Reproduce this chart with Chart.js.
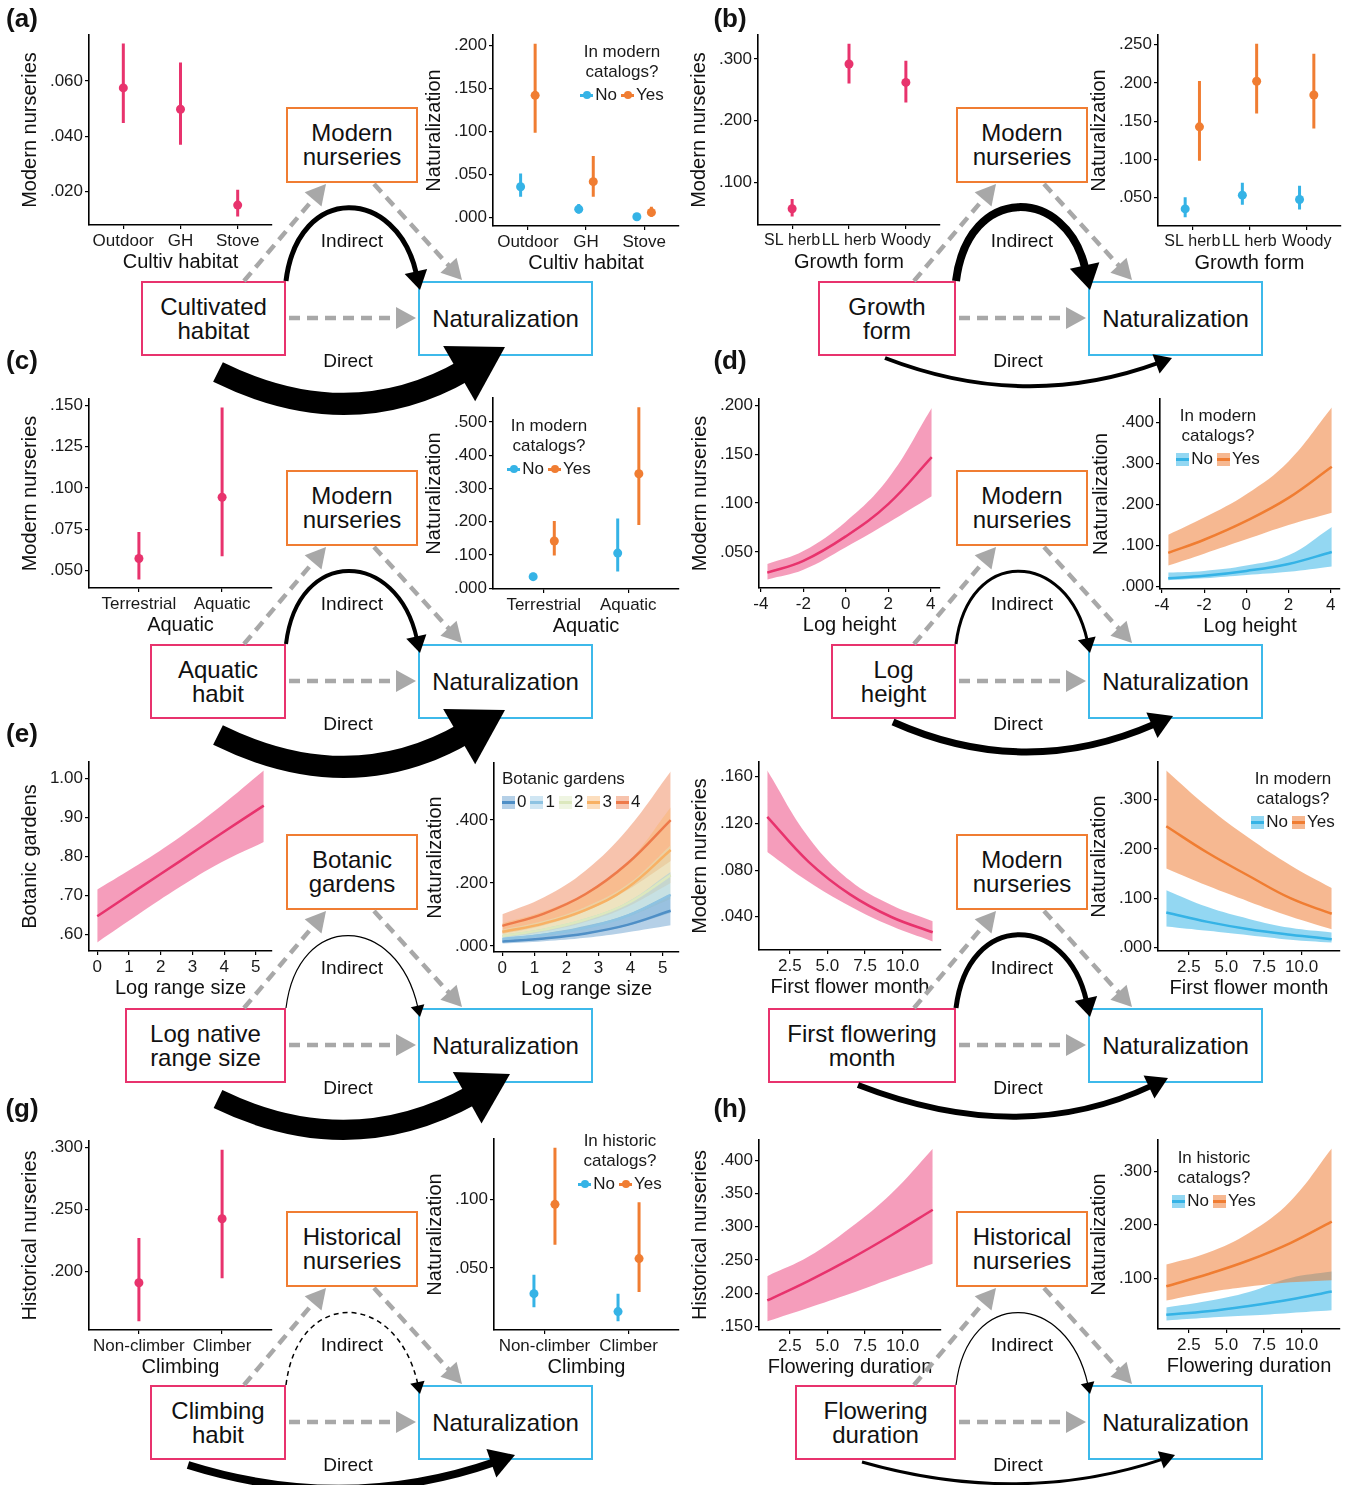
<!DOCTYPE html>
<html lang="en">
<head>
<meta charset="UTF-8">
<title>Paths to naturalization</title>
<script src="https://cdn.jsdelivr.net/npm/chart.js"></script>
<style>
  body { margin: 0; background: #fff; font-family: "Liberation Sans", Arial, sans-serif; }
  #fig { position: relative; width: 1366px; height: 1485px; overflow: hidden; }
  #fig canvas { position: absolute; z-index: 1; }
  .box { position: absolute; box-sizing: border-box; border: 2.5px solid; background: #fff; display: flex;
         align-items: center; justify-content: center; text-align: center; font-size: 24px; line-height: 24px; color: #111; z-index: 2; }
  .lbl { position: absolute; font-size: 19px; color: #111; transform: translate(-50%, -50%); white-space: nowrap; z-index: 4; }
  .tag { position: absolute; font-size: 26px; font-weight: bold; color: #111; transform: translate(-50%, -50%); z-index: 4; }
  .legend { position: absolute; font-size: 17px; line-height: 20px; color: #1a1a1a; z-index: 5; }
  .keys { display: flex; align-items: center; gap: 4px; margin-top: 3px; }
  .sw { position: relative; display: inline-block; width: 13px; height: 13px; margin-right: 2px; }
  .sw i { position: absolute; display: block; }
  svg { position: absolute; left: 0; top: 0; z-index: 3; }
</style>
</head>
<body>
<div id="fig"></div>
<script>
// ---- data ----
// (a) cultivation habitat
const habitatCats = ['Outdoor', 'GH', 'Stove'];
const habitatNurs = [0.0575, 0.0498, 0.0152];
const habitatNursLo = [0.0448, 0.0370, 0.0111];
const habitatNursHi = [0.0735, 0.0667, 0.0207];
const habitatNatNo = [0.0360, 0.0100, 0.0012];
const habitatNatNoLo = [0.0244, 0.0050, 0.0003];
const habitatNatNoHi = [0.0515, 0.0159, 0.0040];
const habitatNatYes = [0.1423, 0.0419, 0.0062];
const habitatNatYesLo = [0.0988, 0.0244, 0.0012];
const habitatNatYesHi = [0.2023, 0.0717, 0.0128];

// (b) growth form
const growthCats = ['SL herb', 'LL herb', 'Woody'];
const growthNurs = [0.0573, 0.2919, 0.2622];
const growthNursLo = [0.0449, 0.2605, 0.2297];
const growthNursHi = [0.0730, 0.3249, 0.2973];
const growthNatNo = [0.0351, 0.0531, 0.0474];
const growthNatNoLo = [0.0241, 0.0404, 0.0342];
const growthNatNoHi = [0.0504, 0.0693, 0.0654];
const growthNatYes = [0.1425, 0.2022, 0.1842];
const growthNatYesLo = [0.0982, 0.1601, 0.1404];
const growthNatYesHi = [0.2026, 0.2513, 0.2382];

// (c) aquatic habit
const aquaticCats = ['Terrestrial', 'Aquatic'];
const aquaticNurs = [0.0574, 0.0944];
const aquaticNursLo = [0.0448, 0.0588];
const aquaticNursHi = [0.0735, 0.1486];
const aquaticNatNo = [0.035, 0.106];
const aquaticNatNoLo = [0.025, 0.0505];
const aquaticNatNoHi = [0.047, 0.210];
const aquaticNatYes = [0.1424, 0.3444];
const aquaticNatYesLo = [0.099, 0.190];
const aquaticNatYesHi = [0.202, 0.5444];

// (d) log height
const heightX = [-3.7, -2, 0, 2, 4.05];
const heightNurs = [0.029, 0.041, 0.066, 0.099, 0.147];
const heightNursHi = [0.0378, 0.051, 0.081, 0.125, 0.197];
const heightNursLo = [0.0221, 0.032, 0.055, 0.080, 0.107];
const heightNatYes = [0.082, 0.114, 0.160, 0.216, 0.292];
const heightNatYesHi = [0.126, 0.168, 0.225, 0.305, 0.436];
const heightNatYesLo = [0.051, 0.080, 0.115, 0.150, 0.180];
const heightNatNo = [0.020, 0.026, 0.038, 0.055, 0.084];
const heightNatNoHi = [0.034, 0.038, 0.051, 0.076, 0.145];
const heightNatNoLo = [0.0155, 0.020, 0.028, 0.036, 0.049];

// (e) log native range size, naturalization by number of botanic gardens
const rangeX = [0, 1.3, 2.6, 3.9, 5.25];
const rangeBot = [0.647, 0.718, 0.788, 0.859, 0.931];
const rangeBotHi = [0.716, 0.780, 0.850, 0.930, 1.021];
const rangeBotLo = [0.580, 0.652, 0.722, 0.785, 0.838];
const gardenLevels = ['0', '1', '2', '3', '4'];
const rangeNat = [
  [0.014, 0.024, 0.040, 0.067, 0.112],
  [0.022, 0.036, 0.058, 0.096, 0.162],
  [0.032, 0.052, 0.084, 0.135, 0.225],
  [0.045, 0.072, 0.115, 0.185, 0.305],
  [0.064, 0.103, 0.165, 0.262, 0.400]
];
const rangeNatHi = [
  [0.025, 0.040, 0.064, 0.100, 0.165],
  [0.036, 0.056, 0.088, 0.140, 0.235],
  [0.052, 0.080, 0.125, 0.195, 0.320],
  [0.072, 0.110, 0.170, 0.265, 0.440],
  [0.101, 0.155, 0.240, 0.370, 0.554]
];
const rangeNatLo = [
  [0.008, 0.015, 0.026, 0.044, 0.066],
  [0.013, 0.023, 0.038, 0.064, 0.105],
  [0.019, 0.033, 0.056, 0.092, 0.150],
  [0.027, 0.046, 0.077, 0.125, 0.200],
  [0.038, 0.066, 0.110, 0.178, 0.270]
];

// (f) first flowering month
const monthX = [1, 3.75, 6.5, 9.25, 12];
const monthNurs = [0.1257, 0.0871, 0.0592, 0.0398, 0.0267];
const monthNursHi = [0.1654, 0.108, 0.071, 0.050, 0.0361];
const monthNursLo = [0.0956, 0.070, 0.049, 0.032, 0.0188];
const monthNatYes = [0.2458, 0.192, 0.145, 0.100, 0.0684];
const monthNatYesHi = [0.359, 0.285, 0.222, 0.167, 0.1205];
const monthNatYesLo = [0.160, 0.125, 0.093, 0.063, 0.037];
const monthNatNo = [0.071, 0.052, 0.037, 0.026, 0.017];
const monthNatNoHi = [0.116, 0.082, 0.058, 0.040, 0.0305];
const monthNatNoLo = [0.0427, 0.034, 0.025, 0.016, 0.0102];

// (g) climbing habit
const climbCats = ['Non-climber', 'Climber'];
const climbNurs = [0.191, 0.2425];
const climbNursLo = [0.160, 0.1947];
const climbNursHi = [0.2269, 0.2979];
const climbNatNo = [0.0314, 0.0184];
const climbNatNoLo = [0.0216, 0.0113];
const climbNatNoHi = [0.0451, 0.0314];
const climbNatYes = [0.0963, 0.0569];
const climbNatYesLo = [0.0669, 0.0326];
const climbNatYesHi = [0.1375, 0.0978];

// (h) flowering duration
const durX = [1, 3.75, 6.5, 9.25, 12];
const durNurs = [0.189, 0.2186, 0.2513, 0.2872, 0.3256];
const durNursHi = [0.2256, 0.255, 0.298, 0.350, 0.4176];
const durNursLo = [0.1575, 0.178, 0.199, 0.222, 0.2443];
const durNatYes = [0.0856, 0.108, 0.134, 0.166, 0.206];
const durNatYesHi = [0.126, 0.148, 0.185, 0.244, 0.342];
const durNatYesLo = [0.059, 0.074, 0.085, 0.093, 0.097];
const durNatNo = [0.0325, 0.039, 0.049, 0.061, 0.076];
const durNatNoHi = [0.046, 0.058, 0.075, 0.101, 0.113];
const durNatNoLo = [0.022, 0.027, 0.031, 0.036, 0.041];

// ---- styling ----
const PINK = '#E8336D', BLUE = '#35B3E6', ORANGE = '#F07D32';
const PINK_FILL = 'rgba(236,60,120,0.5)', BLUE_FILL = 'rgba(40,175,230,0.5)', ORANGE_FILL = 'rgba(238,118,45,0.52)';
const GARDEN_LINE = ['#4F8FC6', '#8EC3E2', '#DCE8BE', '#F8B164', '#EE7A4A'];
const GARDEN_FILL = ['rgba(79,143,198,0.42)', 'rgba(142,195,226,0.42)', 'rgba(220,232,190,0.45)', 'rgba(248,177,100,0.42)', 'rgba(238,122,74,0.45)'];
const PT = 14, PR = 6, YW = 75, XH = 53;
Chart.defaults.font.family = '"Liberation Sans", Arial, sans-serif';

const fig = document.getElementById('fig');
const DODGE = 0.125;

function pointSets(cats, est, lo, hi, color, dx) {
  const err = [];
  cats.forEach((c, i) => {
    err.push({x: i + 1 + dx, y: lo[i]}, {x: i + 1 + dx, y: hi[i]}, {x: i + 1 + dx, y: null});
  });
  return [
    {data: est.map((v, i) => ({x: i + 1 + dx, y: v})), showLine: false, pointRadius: 4.5,
     pointBackgroundColor: color, pointBorderWidth: 0},
    {data: err, borderColor: color, borderWidth: 3, pointRadius: 0, spanGaps: false}
  ];
}

function lineSet(xs, ys, color) {
  return {data: xs.map((x, i) => ({x, y: ys[i]})), borderColor: color, borderWidth: 2.5,
          pointRadius: 0, tension: 0.4, fill: false};
}

function bandSets(xs, lo, hi, fillColor) {
  return [
    {data: xs.map((x, i) => ({x, y: hi[i]})), borderWidth: 0, borderColor: 'rgba(0,0,0,0)', pointRadius: 0,
     backgroundColor: fillColor, fill: '+1', tension: 0.4},
    {data: xs.map((x, i) => ({x, y: lo[i]})), borderWidth: 0, borderColor: 'rgba(0,0,0,0)', pointRadius: 0,
     fill: false, tension: 0.4}
  ];
}

const dotFmt = dec => v => v.toFixed(dec).replace(/^(-?)0\./, '$1.');

function axisOpts(axis, range, ticks, fmt, title, tickSize) {
  return {
    type: 'linear', min: range[0], max: range[1],
    afterBuildTicks: s => { s.ticks = ticks.map(v => ({value: v})); },
    afterFit: s => { if (axis === 'x') s.height = XH; else s.width = YW; },
    ticks: {callback: v => fmt(v), color: '#1a1a1a', font: {size: tickSize}, padding: 2, autoSkip: false, maxRotation: 0},
    grid: {display: true, drawOnChartArea: false, drawTicks: true, tickLength: 4, color: '#000', lineWidth: 1.2},
    border: {display: true, color: '#000', width: 1.6},
    title: {display: true, text: title, color: '#111', font: {size: 20}, padding: {top: 4, bottom: 4}}
  };
}

function makeChart(spec) {
  const [l, t, r, b] = spec.plot;
  const w = YW + (r - l) + PR, h = PT + (b - t) + XH;
  const c = document.createElement('canvas');
  c.width = w; c.height = h;
  c.style.left = (l - YW) + 'px'; c.style.top = (t - PT) + 'px';
  c.style.width = w + 'px'; c.style.height = h + 'px';
  fig.appendChild(c);
  let xRange, xTicks, xFmt;
  if (spec.cats) {
    xRange = [0.4, spec.cats.length + 0.6];
    xTicks = spec.cats.map((_, i) => i + 1);
    xFmt = v => spec.cats[Math.round(v) - 1] || '';
  } else {
    xRange = spec.x; xTicks = spec.xTicks; xFmt = v => v.toFixed(spec.xDec || 0);
  }
  new Chart(c, {
    type: 'line',
    data: {datasets: spec.sets},
    options: {
      responsive: false, animation: false, events: [],
      layout: {padding: {top: PT, right: PR, left: 0, bottom: 0}},
      plugins: {legend: {display: false}, tooltip: {enabled: false}},
      scales: {
        x: axisOpts('x', xRange, xTicks, xFmt, spec.xTitle, spec.xSize || 17),
        y: axisOpts('y', spec.y, spec.yTicks, dotFmt(spec.yDec || 3), spec.yTitle, 17)
      }
    }
  });
}

function noYes(cats, no, noLo, noHi, yes, yesLo, yesHi) {
  return [...pointSets(cats, yes, yesLo, yesHi, ORANGE, DODGE), ...pointSets(cats, no, noLo, noHi, BLUE, -DODGE)];
}
function noYesBands(xs, no, noLo, noHi, yes, yesLo, yesHi) {
  return [lineSet(xs, yes, ORANGE), lineSet(xs, no, BLUE),
          ...bandSets(xs, yesLo, yesHi, ORANGE_FILL), ...bandSets(xs, noLo, noHi, BLUE_FILL)];
}
function singleBand(xs, est, lo, hi) {
  return [lineSet(xs, est, PINK), ...bandSets(xs, lo, hi, PINK_FILL)];
}

const gardenSets = [
  ...gardenLevels.map((g, k) => lineSet(rangeX, rangeNat[4 - k], GARDEN_LINE[4 - k])),
  ...gardenLevels.flatMap((g, k) => bandSets(rangeX, rangeNatLo[k], rangeNatHi[k], GARDEN_FILL[k]))
];

const NAT = 'Naturalization', MOD = 'Modern nurseries', HIS = 'Historical nurseries';
const charts = [
  {plot: [89, 35, 272, 225], yTitle: MOD, xTitle: 'Cultiv habitat', cats: habitatCats, y: [0.008, 0.0766], yTicks: [0.02, 0.04, 0.06],
   sets: pointSets(habitatCats, habitatNurs, habitatNursLo, habitatNursHi, PINK, 0)},
  {plot: [493, 35, 679, 226], yTitle: NAT, xTitle: 'Cultiv habitat', cats: habitatCats, y: [-0.0096, 0.2124], yTicks: [0, 0.05, 0.1, 0.15, 0.2],
   sets: noYes(habitatCats, habitatNatNo, habitatNatNoLo, habitatNatNoHi, habitatNatYes, habitatNatYesLo, habitatNatYesHi)},
  {plot: [758, 35, 940, 225], yTitle: MOD, xTitle: 'Growth form', cats: growthCats, xSize: 16, y: [0.031, 0.339], yTicks: [0.1, 0.2, 0.3],
   sets: pointSets(growthCats, growthNurs, growthNursLo, growthNursHi, PINK, 0)},
  {plot: [1158, 35, 1341, 226], yTitle: NAT, xTitle: 'Growth form', cats: growthCats, xSize: 16, y: [0.0127, 0.2627], yTicks: [0.05, 0.1, 0.15, 0.2, 0.25],
   sets: noYes(growthCats, growthNatNo, growthNatNoLo, growthNatNoHi, growthNatYes, growthNatYesLo, growthNatYesHi)},
  {plot: [89, 399, 272, 588], yTitle: MOD, xTitle: 'Aquatic', cats: aquaticCats, y: [0.0396, 0.1538], yTicks: [0.05, 0.075, 0.1, 0.125, 0.15],
   sets: pointSets(aquaticCats, aquaticNurs, aquaticNursLo, aquaticNursHi, PINK, 0)},
  {plot: [493, 398, 679, 589], yTitle: NAT, xTitle: 'Aquatic', cats: aquaticCats, y: [-0.002, 0.572], yTicks: [0, 0.1, 0.2, 0.3, 0.4, 0.5],
   sets: noYes(aquaticCats, aquaticNatNo, aquaticNatNoLo, aquaticNatNoHi, aquaticNatYes, aquaticNatYesLo, aquaticNatYesHi)},
  {plot: [759, 399, 940, 588], yTitle: MOD, xTitle: 'Log height', x: [-4.09, 4.44], xTicks: [-4, -2, 0, 2, 4], y: [0.0133, 0.2063], yTicks: [0.05, 0.1, 0.15, 0.2],
   sets: singleBand(heightX, heightNurs, heightNursLo, heightNursHi)},
  {plot: [1160, 399, 1340, 589], yTitle: NAT, xTitle: 'Log height', x: [-4.09, 4.44], xTicks: [-4, -2, 0, 2, 4], y: [-0.006, 0.457], yTicks: [0, 0.1, 0.2, 0.3, 0.4],
   sets: noYesBands(heightX, heightNatNo, heightNatNoLo, heightNatNoHi, heightNatYes, heightNatYesLo, heightNatYesHi)},
  {plot: [89, 762, 272, 951], yTitle: 'Botanic gardens', xTitle: 'Log range size', x: [-0.26, 5.51], xTicks: [0, 1, 2, 3, 4, 5], y: [0.558, 1.043], yTicks: [0.6, 0.7, 0.8, 0.9, 1.0], yDec: 2,
   sets: singleBand(rangeX, rangeBot, rangeBotLo, rangeBotHi)},
  {plot: [494, 763, 679, 952], yTitle: NAT, xTitle: 'Log range size', x: [-0.26, 5.51], xTicks: [0, 1, 2, 3, 4, 5], y: [-0.019, 0.581], yTicks: [0, 0.2, 0.4],
   sets: gardenSets},
  {plot: [759, 762, 941, 950], yTitle: MOD, xTitle: 'First flower month', x: [0.45, 12.55], xTicks: [2.5, 5, 7.5, 10], xDec: 1, y: [0.0115, 0.1727], yTicks: [0.04, 0.08, 0.12, 0.16],
   sets: singleBand(monthX, monthNurs, monthNursLo, monthNursHi)},
  {plot: [1158, 762, 1340, 951], yTitle: NAT, xTitle: 'First flower month', x: [0.45, 12.55], xTicks: [2.5, 5, 7.5, 10], xDec: 1, y: [-0.007, 0.376], yTicks: [0, 0.1, 0.2, 0.3],
   sets: noYesBands(monthX, monthNatNo, monthNatNoLo, monthNatNoHi, monthNatYes, monthNatYesLo, monthNatYesHi)},
  {plot: [89, 1141, 272, 1330], yTitle: HIS, xTitle: 'Climbing', cats: climbCats, y: [0.153, 0.305], yTicks: [0.2, 0.25, 0.3],
   sets: pointSets(climbCats, climbNurs, climbNursLo, climbNursHi, PINK, 0)},
  {plot: [494, 1139, 679, 1330], yTitle: NAT, xTitle: 'Climbing', cats: climbCats, y: [0.005, 0.1438], yTicks: [0.05, 0.1],
   sets: noYes(climbCats, climbNatNo, climbNatNoLo, climbNatNoHi, climbNatYes, climbNatYesLo, climbNatYesHi)},
  {plot: [759, 1140, 941, 1330], yTitle: HIS, xTitle: 'Flowering duration', x: [0.45, 12.55], xTicks: [2.5, 5, 7.5, 10], xDec: 1, y: [0.1445, 0.4306], yTicks: [0.15, 0.2, 0.25, 0.3, 0.35, 0.4],
   sets: singleBand(durX, durNurs, durNursLo, durNursHi)},
  {plot: [1158, 1140, 1340, 1329], yTitle: NAT, xTitle: 'Flowering duration', x: [0.45, 12.55], xTicks: [2.5, 5, 7.5, 10], xDec: 1, y: [0.006, 0.358], yTicks: [0.1, 0.2, 0.3],
   sets: noYesBands(durX, durNatNo, durNatNoLo, durNatNoHi, durNatYes, durNatYesLo, durNatYesHi)}
];
charts.forEach(makeChart);

// ---- legends ----
function swatch(kind, line, fill) {
  const bar = `<i style="left:0;top:5px;width:13px;height:3px;background:${line}"></i>`;
  if (kind === 'point')
    return `<span class="sw">${bar}<i style="left:2.5px;top:2.5px;width:8px;height:8px;border-radius:50%;background:${line}"></i></span>`;
  return `<span class="sw" style="background:${fill}">${bar}</span>`;
}
function legend(x, top, align, title, keys, kind) {
  const d = document.createElement('div');
  d.className = 'legend';
  d.style.top = top + 'px';
  if (align === 'center') { d.style.left = (x - 80) + 'px'; d.style.width = '160px'; d.style.textAlign = 'center'; }
  else d.style.left = x + 'px';
  const row = keys.map(k => `<span style="display:inline-flex;align-items:center">${swatch(kind, k[1], k[2])}${k[0]}</span>`).join('');
  d.innerHTML = title.join('<br>') + `<div class="keys" style="justify-content:${align === 'center' ? 'center' : 'flex-start'}">${row}</div>`;
  fig.appendChild(d);
}
const modernT = ['In modern', 'catalogs?'], historicT = ['In historic', 'catalogs?'];
const nyKeys = [['No', BLUE, BLUE_FILL], ['Yes', ORANGE, ORANGE_FILL]];
legend(622, 42, 'center', modernT, nyKeys, 'point');
legend(549, 416, 'center', modernT, nyKeys, 'point');
legend(1218, 406, 'center', modernT, nyKeys, 'band');
legend(1293, 769, 'center', modernT, nyKeys, 'band');
legend(620, 1131, 'center', historicT, nyKeys, 'point');
legend(1214, 1148, 'center', historicT, nyKeys, 'band');
legend(502, 769, 'left', ['Botanic gardens'], gardenLevels.map((g, k) => [g, GARDEN_LINE[k], GARDEN_FILL[k]]), 'band');

// ---- path diagrams ----
const rowY = [0, 363, 727, 1104];
const tagY = [18, 360, 733, 1108];
const panels = [
  {tag: '(a)', col: 0, row: 0, pink: [141, 286], text: ['Cultivated', 'habitat'], mid: ['Modern', 'nurseries'], ind: 5,
   direct: {p0: [218, 372], c: [350, 437], tip: [505, 347], lw: 22}},
  {tag: '(b)', col: 1, row: 0, pink: [818, 956], text: ['Growth', 'form'], mid: ['Modern', 'nurseries'], ind: 8,
   direct: {p0: [885, 358], c: [1025, 412], tip: [1172, 358], lw: 4}},
  {tag: '(c)', col: 0, row: 1, pink: [150, 286], text: ['Aquatic', 'habit'], mid: ['Modern', 'nurseries'], ind: 4,
   direct: {p0: [218, 735], c: [350, 800], tip: [505, 710], lw: 22}},
  {tag: '(d)', col: 1, row: 1, pink: [831, 956], text: ['Log', 'height'], mid: ['Modern', 'nurseries'], ind: 3,
   direct: {p0: [893, 722], c: [1025, 781], tip: [1173, 716], lw: 7}},
  {tag: '(e)', col: 0, row: 2, pink: [125, 286], text: ['Log native', 'range size'], mid: ['Botanic', 'gardens'], ind: 1.2,
   direct: {p0: [218, 1099], c: [350, 1163], tip: [510, 1074], lw: 20}},
  {tag: '', col: 1, row: 2, pink: [768, 956], text: ['First flowering', 'month'], mid: ['Modern', 'nurseries'], ind: 5,
   direct: {p0: [858, 1085], c: [1020, 1148], tip: [1168, 1078], lw: 6}},
  {tag: '(g)', col: 0, row: 3, pink: [150, 286], text: ['Climbing', 'habit'], mid: ['Historical', 'nurseries'], ind: 1.5, dashed: true,
   direct: {p0: [188, 1465], c: [345, 1514], tip: [515, 1455], lw: 8}},
  {tag: '(h)', col: 1, row: 3, pink: [795, 956], text: ['Flowering', 'duration'], mid: ['Historical', 'nurseries'], ind: 1.2,
   direct: {p0: [862, 1462], c: [1020, 1507], tip: [1175, 1455], lw: 3}}
];

function addBox(x0, x1, y0, y1, cls, lines) {
  const d = document.createElement('div');
  d.className = 'box';
  d.style.cssText = `left:${x0}px;top:${y0}px;width:${x1 - x0}px;height:${y1 - y0}px;border-color:${cls}`;
  d.innerHTML = lines.join('<br>');
  fig.appendChild(d);
}
function addText(cls, x, y, txt) {
  if (!txt) return;
  const d = document.createElement('div');
  d.className = cls; d.style.left = x + 'px'; d.style.top = y + 'px'; d.textContent = txt;
  fig.appendChild(d);
}
function head(tip, u, L, hw, color) {
  const bx = tip[0] - u[0] * L, by = tip[1] - u[1] * L;
  const px = -u[1], py = u[0];
  return `<polygon points="${tip[0]},${tip[1]} ${bx + px * hw},${by + py * hw} ${bx - px * hw},${by - py * hw}" fill="${color}"/>`;
}
function unit(a, b) { const dx = b[0] - a[0], dy = b[1] - a[1], n = Math.hypot(dx, dy); return [dx / n, dy / n]; }
function sizes(lw) { return [2 * lw + 9, 1.2 * lw + 5.5]; }

function curveArrow(pts, lw, color, dash) {
  const tip = pts[pts.length - 1], prev = pts[pts.length - 2];
  const u = unit(prev, tip);
  const [L, hw] = sizes(lw);
  const end = [tip[0] - u[0] * L * 0.85, tip[1] - u[1] * L * 0.85];
  const cmd = pts.length === 3 ? 'Q' : 'C';
  const mids = pts.slice(1, -1).map(p => p.join(',')).join(' ');
  const da = dash ? ` stroke-dasharray="${dash}"` : '';
  return `<path d="M${pts[0].join(',')} ${cmd}${mids} ${end.join(',')}" fill="none" stroke="${color}" stroke-width="${lw}"${da}/>` +
         head(tip, u, L, hw, color);
}
function grayArrow(p0, tip) {
  const u = unit(p0, tip), L = 20, hw = 11;
  const end = [tip[0] - u[0] * L * 0.9, tip[1] - u[1] * L * 0.9];
  return `<path d="M${p0.join(',')} L${end.join(',')}" stroke="#A8A8A8" stroke-width="4.5" stroke-dasharray="11 7" fill="none"/>` +
         head(tip, u, L, hw, '#A8A8A8');
}

let svg = '';
panels.forEach(p => {
  const cx = p.col * 670, ry = rowY[p.row];
  addText('tag', p.col ? 730 : 22, tagY[p.row], p.tag);
  addBox(286 + cx, 418 + cx, 107 + ry, 183 + ry, ORANGE, p.mid);
  addBox(p.pink[0], p.pink[1], 281 + ry, 356 + ry, PINK, p.text);
  addBox(418 + cx, 593 + cx, 281 + ry, 356 + ry, '#3DB9EA', ['Naturalization']);
  addText('lbl', 352 + cx, 241 + ry, 'Indirect');
  addText('lbl', 348 + cx, 361 + ry, 'Direct');
  svg += grayArrow([244 + cx, 281 + ry], [326 + cx, 184 + ry]);
  svg += grayArrow([374 + cx, 184 + ry], [462 + cx, 280 + ry]);
  svg += grayArrow([289 + cx, 318 + ry], [416 + cx, 318 + ry]);
  svg += curveArrow([[286 + cx, 281 + ry], [298 + cx, 183 + ry], [397 + cx, 186 + ry], [420 + cx, 290 + ry]],
                    p.ind, '#000', p.dashed ? '5 4' : null);
  const d = p.direct;
  svg += curveArrow([d.p0, d.c, d.tip], d.lw, '#000', null);
});
const s = document.createElementNS('http://www.w3.org/2000/svg', 'svg');
s.setAttribute('width', 1366); s.setAttribute('height', 1485);
s.innerHTML = svg;
fig.appendChild(s);
</script>
</body>
</html>
